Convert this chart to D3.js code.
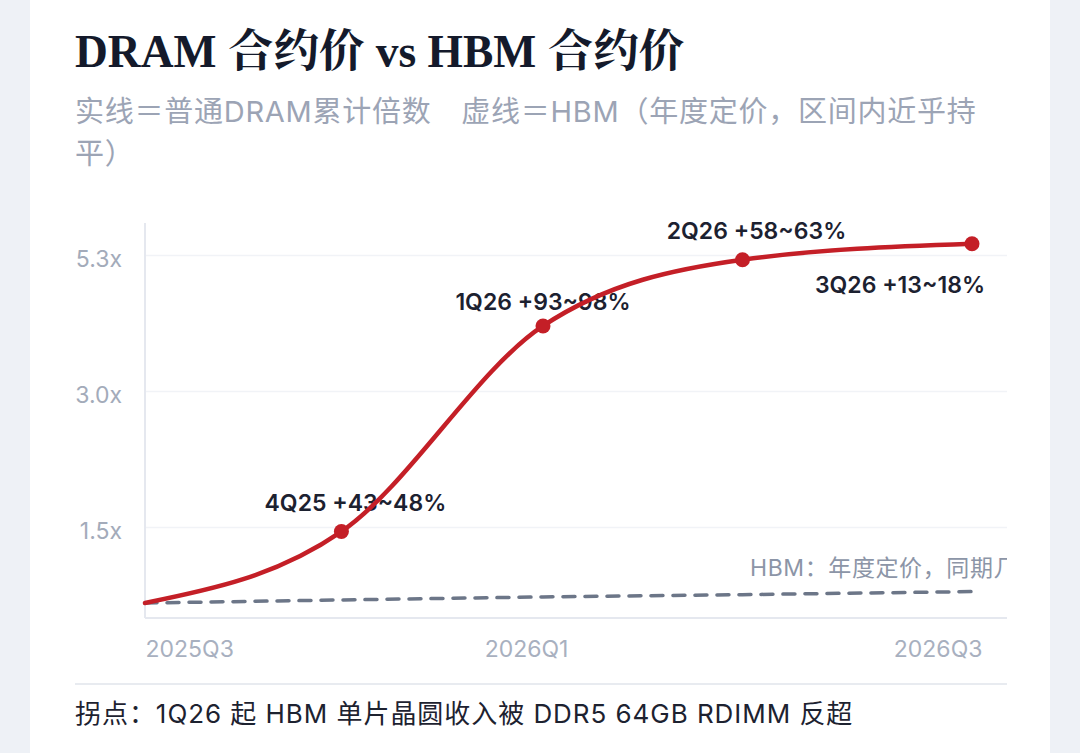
<!DOCTYPE html>
<html>
<head>
<meta charset="utf-8">
<script src="https://cdn.jsdelivr.net/npm/d3@7"></script>
<style>
  html, body { margin: 0; padding: 0; background: #eef1f6; }
  #chart { width: 1080px; height: 753px; }
</style>
</head>
<body>
<div id="chart"></div>
<script>
// Chart values
const quarters = ["3Q25", "4Q25", "1Q26", "2Q26", "3Q26"];
// where each quarter sits on the time axis (quarters after 2025Q3)
const quarterPos = [0, 0.95, 1.925, 2.89, 4.0];
const dramMultiple = [1.0, 1.47, 4.10, 5.22, 5.49];
const hbmMultiple = [1.0, 1.02, 1.04, 1.055, 1.075];
const qoqLabels = ["", "4Q25 +43~48%", "1Q26 +93~98%", "2Q26 +58~63%", "3Q26 +13~18%"];

const yTicks = [1.5, 3.0, 5.3];
const yTickLabels = ["1.5x", "3.0x", "5.3x"];
const xTickPos = [0, 1.843, 4.048];
const xTickLabels = ["2025Q3", "2026Q1", "2026Q3"];

const titleText = "DRAM 合约价 vs HBM 合约价";
const subtitleLines = ["实线＝普通DRAM累计倍数　虚线＝HBM（年度定价，区间内近乎持", "平）"];
const hbmNote = "HBM：年度定价，同期几乎持平";
const footnote = "拐点：1Q26 起 HBM 单片晶圆收入被 DDR5 64GB RDIMM 反超";

// Layout
const W = 1080, H = 753;
const plot = { left: 145, right: 1007, top: 223, bottom: 618 };
const sans = "Inter, 'Noto Sans CJK SC', sans-serif";
const red = "#c41f27";

// label placement relative to its dot [dx, dy, anchor]
const labelPlace = [null, [14, -21, "middle"], [0, -16, "middle"], [14, -21, "middle"], [13, 49, "end"]];

const svg = d3.select("#chart").append("svg")
  .attr("width", W)
  .attr("height", H);

// white card
svg.append("rect")
  .attr("x", 30).attr("y", -20)
  .attr("width", 1020).attr("height", H + 40)
  .attr("rx", 16)
  .attr("fill", "#ffffff");

// title + subtitle
svg.append("text")
  .attr("x", 75).attr("y", 67)
  .attr("font-family", "'Liberation Serif', 'Noto Serif CJK SC', 'Noto Sans CJK SC', serif")
  .attr("font-weight", 700)
  .attr("font-size", 45.5)
  .attr("fill", "#141a2b")
  .text(titleText);

svg.append("text")
  .attr("font-family", sans)
  .attr("font-size", 29)
  .attr("letter-spacing", 0.75)
  .attr("fill", "#9ca4b5")
  .selectAll("tspan")
  .data(subtitleLines)
  .join("tspan")
  .attr("x", 75)
  .attr("y", (d, i) => 122 + i * 42)
  .text(d => d);

// scales
const x = d3.scaleLinear()
  .domain([0, 4])
  .range([plot.left, 972]);

const tickGap = 136;
const y = d3.scaleLinear()
  .domain([1.0, ...yTicks])
  .range([plot.bottom - 15, ...yTicks.map((d, i) => plot.bottom - 91 - i * tickGap)]);

// gridlines
svg.append("g")
  .attr("transform", `translate(${plot.left},0)`)
  .call(d3.axisLeft(y).tickValues(yTicks).tickSize(-(plot.right - plot.left)).tickFormat(""))
  .call(g => g.select(".domain").remove())
  .call(g => g.selectAll(".tick line").attr("stroke", "#f1f3f7").attr("stroke-width", 1.5));

// axis lines
svg.append("line")
  .attr("x1", plot.left).attr("x2", plot.left)
  .attr("y1", plot.top).attr("y2", plot.bottom)
  .attr("stroke", "#e5e8ef").attr("stroke-width", 2);
svg.append("line")
  .attr("x1", plot.left).attr("x2", plot.right)
  .attr("y1", plot.bottom).attr("y2", plot.bottom)
  .attr("stroke", "#e5e8ef").attr("stroke-width", 2);

// y tick labels
svg.append("g")
  .attr("transform", `translate(${plot.left},0)`)
  .call(d3.axisLeft(y).tickValues(yTicks).tickSize(0).tickPadding(23).tickFormat((d, i) => yTickLabels[i]))
  .call(g => g.select(".domain").remove())
  .call(g => g.selectAll("text")
    .attr("dy", "0.5em")
    .attr("font-family", sans)
    .attr("font-size", 23)
    .attr("fill", "#a3abba"));

// x tick labels
svg.append("g")
  .attr("transform", `translate(0,${plot.bottom})`)
  .call(d3.axisBottom(x).tickValues(xTickPos).tickSize(0).tickPadding(23).tickFormat((d, i) => xTickLabels[i]))
  .call(g => g.select(".domain").remove())
  .call(g => g.selectAll("text")
    .attr("font-family", sans)
    .attr("font-size", 23)
    .attr("fill", "#a8b0bf")
    .attr("text-anchor", (d, i) => ["start", "middle", "end"][i]));

// clip for text running past the plot
svg.append("clipPath").attr("id", "plot-clip")
  .append("rect")
  .attr("x", plot.left).attr("y", plot.top - 40)
  .attr("width", plot.right - plot.left).attr("height", plot.bottom - plot.top + 40);

const points = quarters.map((q, i) => ({
  q, t: quarterPos[i], dram: dramMultiple[i], hbm: hbmMultiple[i], label: qoqLabels[i], place: labelPlace[i]
}));

// quarter labels (under the line, like the reference)
svg.append("g")
  .selectAll("text")
  .data(points.filter(d => d.label))
  .join("text")
  .attr("x", d => x(d.t) + d.place[0])
  .attr("y", d => y(d.dram) + d.place[1])
  .attr("text-anchor", d => d.place[2])
  .attr("font-family", sans)
  .attr("font-weight", 600)
  .attr("font-size", 23)
  .attr("fill", "#1c2130")
  .text(d => d.label);

// HBM note (runs past the plot edge and is cut there, as in the reference)
svg.append("text")
  .attr("clip-path", "url(#plot-clip)")
  .attr("x", 750)
  .attr("y", 576)
  .attr("font-family", sans)
  .attr("font-size", 23)
  .attr("letter-spacing", 0.6)
  .attr("fill", "#8c95a7")
  .text(hbmNote);

// HBM dashed line
svg.append("path")
  .datum(points)
  .attr("fill", "none")
  .attr("stroke", "#6c7688")
  .attr("stroke-width", 3.5)
  .attr("stroke-linecap", "round")
  .attr("stroke-dasharray", "12 10")
  .attr("d", d3.line().x(d => x(d.t)).y(d => y(d.hbm)));

// DRAM line
svg.append("path")
  .datum(points)
  .attr("fill", "none")
  .attr("stroke", red)
  .attr("stroke-width", 4.5)
  .attr("stroke-linecap", "round")
  .attr("d", d3.line().curve(d3.curveMonotoneX).x(d => x(d.t)).y(d => y(d.dram)));

svg.append("g")
  .selectAll("circle")
  .data(points.slice(1))
  .join("circle")
  .attr("cx", d => x(d.t))
  .attr("cy", d => y(d.dram))
  .attr("r", 7.5)
  .attr("fill", red);

// footnote
svg.append("line")
  .attr("x1", 75).attr("x2", plot.right)
  .attr("y1", 684).attr("y2", 684)
  .attr("stroke", "#e8ebf0").attr("stroke-width", 2);

svg.append("text")
  .attr("x", 75).attr("y", 723)
  .attr("font-family", sans)
  .attr("font-size", 26)
  .attr("letter-spacing", 0.95)
  .attr("fill", "#1d2230")
  .text(footnote);
</script>
</body>
</html>
